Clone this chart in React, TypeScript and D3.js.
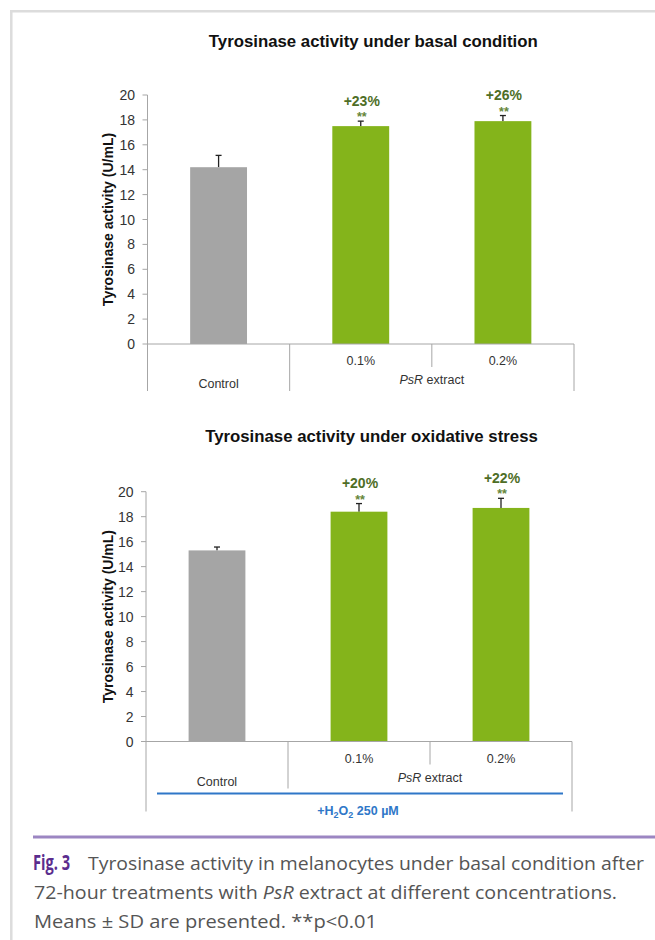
import React from "react";
import * as d3 from "d3";

// Treatment groups along the category axis
const categories = ["Control", "0.1%", "0.2%"];
const groupName = "PsR";
const groupSuffix = " extract";

// Tyrosinase activity (U/mL), mean and SD, basal condition
const basalMeans = [14.2, 17.5, 17.9];
const basalSD = [0.95, 0.4, 0.45];

// Tyrosinase activity (U/mL), mean and SD, under H2O2 oxidative stress
const stressMeans = [15.3, 18.4, 18.7];
const stressSD = [0.27, 0.65, 0.77];

// Significance markers vs. control
const significance = ["", "**", "**"];

// Y axis ticks
const yTicks = [0, 2, 4, 6, 8, 10, 12, 14, 16, 18, 20];

const FONT = "'Liberation Sans', Arial, Helvetica, sans-serif";
const AXIS = "#a6a6a6";
const TEXT = "#333333";
const BAR_FILL = ["#a5a5a5", "#84b41b", "#84b41b"];
const PCT = "#4e6e26";
const STAR = "#66863a";
const BLUE = "#2f77c8";

type PanelProps = {
  title: string;
  means: number[];
  sd: number[];
  x0: number;
  x1: number;
  y0: number;
  yTop: number;
  titleY: number;
  stress?: boolean;
};

function Panel({ title, means, sd, x0, x1, y0, yTop, titleY, stress }: PanelProps) {
  const y = d3.scaleLinear().domain([0, 20]).range([y0, yTop]);
  const x = d3
    .scaleBand<string>()
    .domain(categories)
    .range([x0, x1])
    .paddingInner(0.6)
    .paddingOuter(0.3);
  const step = x.step();
  const outerDepth = stress ? 70 : 47;
  const midDepth = 47;
  const innerDepth = 23;
  const cx = (x0 + x1) / 2;

  return (
    <g fontFamily={FONT}>
      <text x={cx + 12.5} y={titleY} textAnchor="middle" fontWeight="bold" fontSize={16.8} fill="#111">
        {title}
      </text>

      {/* value axis */}
      <line x1={x0} x2={x0} y1={yTop} y2={y0 + outerDepth} stroke={AXIS} strokeWidth={1} />
      {yTicks.map((t) => (
        <g key={t}>
          <line x1={x0 - 5} x2={x0} y1={y(t)} y2={y(t)} stroke={AXIS} strokeWidth={1} />
          <text x={x0 - 12.5} y={y(t)} dy="0.36em" textAnchor="end" fontSize={14} fill={TEXT}>
            {t}
          </text>
        </g>
      ))}
      <text
        transform={`translate(108.5,${(y0 + yTop) / 2}) rotate(-90)`}
        textAnchor="middle"
        dy="0.35em"
        fontWeight="bold"
        fontSize={14}
        fill="#111"
      >
        Tyrosinase activity (U/mL)
      </text>

      {/* bars */}
      {means.map((m, i) => {
        const c = categories[i];
        const bx = x(c) as number;
        const errTop = y(m + sd[i]);
        const mid = bx + x.bandwidth() / 2;
        const pct = Math.round((m / means[0] - 1) * 100);
        return (
          <g key={c}>
            <line x1={mid} x2={mid} y1={y(m)} y2={errTop} stroke="#222" strokeWidth={1.3} />
            <line x1={mid - 3} x2={mid + 3} y1={errTop} y2={errTop} stroke="#222" strokeWidth={1.3} />
            <rect x={bx} y={y(m)} width={x.bandwidth()} height={y0 - y(m)} fill={BAR_FILL[i]} />
            {i > 0 && (
              <>
                <text x={mid + 1} y={errTop - 15.5} textAnchor="middle" fontWeight="bold" fontSize={14} fill={PCT}>
                  {`+${pct}%`}
                </text>
                <text x={mid + 1} y={errTop} textAnchor="middle" fontWeight="bold" fontSize={12.5} fill={STAR}>
                  {significance[i]}
                </text>
              </>
            )}
          </g>
        );
      })}

      {/* category axis */}
      <line x1={x0} x2={x1} y1={y0} y2={y0} stroke={AXIS} strokeWidth={1} />
      <line x1={x0 + step} x2={x0 + step} y1={y0} y2={y0 + midDepth} stroke={AXIS} strokeWidth={1} />
      <line x1={x0 + 2 * step} x2={x0 + 2 * step} y1={y0} y2={y0 + innerDepth} stroke={AXIS} strokeWidth={1} />
      <line x1={x1} x2={x1} y1={y0} y2={y0 + outerDepth} stroke={AXIS} strokeWidth={1} />
      {categories.slice(1).map((c) => (
        <text key={c} x={(x(c) as number) + x.bandwidth() / 2} y={y0 + 21} textAnchor="middle" fontSize={12.5} fill={TEXT}>
          {c}
        </text>
      ))}
      <text x={x0 + step / 2} y={y0 + 44} textAnchor="middle" fontSize={12.5} fill={TEXT}>
        {categories[0]}
      </text>
      <text x={x0 + 2 * step} y={y0 + 40} textAnchor="middle" fontSize={12.5} fill={TEXT}>
        <tspan fontStyle="italic">{groupName}</tspan>
        {groupSuffix}
      </text>

      {stress && (
        <>
          <line x1={x0 + 11} x2={x1 - 9} y1={y0 + 52} y2={y0 + 52} stroke={BLUE} strokeWidth={2} />
          <text x={cx - 1} y={y0 + 73} textAnchor="middle" fontWeight="bold" fontSize={12.5} fill={BLUE}>
            +H<tspan fontSize={9} dy={3}>2</tspan>
            <tspan dy={-3}>O</tspan>
            <tspan fontSize={9} dy={3}>2</tspan>
            <tspan dy={-3}> 250 µM</tspan>
          </text>
        </>
      )}
    </g>
  );
}

export default function App() {
  const capFont = "'Open Sans', 'Noto Sans', sans-serif";
  return (
    <svg
      width={655}
      height={940}
      viewBox="0 0 655 940"
      style={{ position: "absolute", left: 0, top: 0, display: "block", background: "#fff" }}
    >
      <rect x={0} y={0} width={655} height={940} fill="#fff" />
      {/* page frame */}
      <line x1={11.3} x2={11.3} y1={10} y2={940} stroke="#dcdcdc" strokeWidth={2.5} />
      <line x1={10} x2={655} y1={11.3} y2={11.3} stroke="#dcdcdc" strokeWidth={2.5} />

      <Panel
        title="Tyrosinase activity under basal condition"
        means={basalMeans}
        sd={basalSD}
        x0={147.5}
        x1={574}
        y0={344}
        yTop={95}
        titleY={46.5}
      />
      <Panel
        title="Tyrosinase activity under oxidative stress"
        means={stressMeans}
        sd={stressSD}
        x0={146}
        x1={572}
        y0={741.5}
        yTop={491.7}
        titleY={441.7}
        stress
      />

      {/* caption */}
      <line x1={33} x2={655} y1={837} y2={837} stroke="#9c86c2" strokeWidth={3} />
      <g fontFamily={capFont} fill="#555">
        <text x={33} y={870} fontSize={21} fontWeight="bold" fill="#5b2d8e" textLength={37} lengthAdjust="spacingAndGlyphs">
          Fig. 3
        </text>
        <text x={88} y={870} fontSize={19} textLength={556} lengthAdjust="spacingAndGlyphs">
          Tyrosinase activity in melanocytes under basal condition after
        </text>
        <text x={34} y={899} fontSize={19} textLength={583} lengthAdjust="spacingAndGlyphs">
          72-hour treatments with <tspan fontStyle="italic">PsR</tspan> extract at different concentrations.
        </text>
        <text x={34} y={928} fontSize={19} textLength={343} lengthAdjust="spacingAndGlyphs">
          Means ± SD are presented. **p{"<"}0.01
        </text>
      </g>
    </svg>
  );
}
